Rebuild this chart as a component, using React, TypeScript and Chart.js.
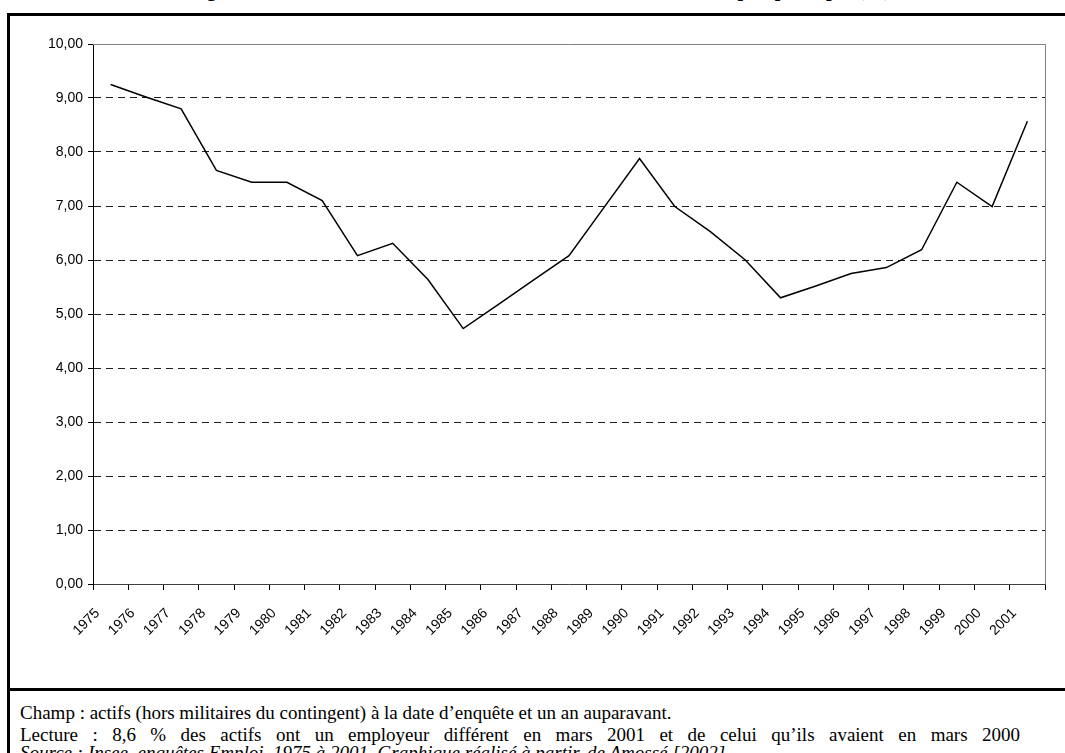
import React, { useEffect, useRef } from "react";
import { Chart, registerables } from "chart.js";

Chart.register(...registerables);

const years = [
  "1975", "1976", "1977", "1978", "1979", "1980", "1981", "1982", "1983",
  "1984", "1985", "1986", "1987", "1988", "1989", "1990", "1991", "1992",
  "1993", "1994", "1995", "1996", "1997", "1998", "1999", "2000", "2001",
];

const mobilityRate = [
  9.25, 9.02, 8.8, 7.66, 7.44, 7.44, 7.1, 6.08, 6.31,
  5.64, 4.73, 5.18, 5.63, 6.08, 6.98, 7.88, 6.99, 6.53,
  6.0, 5.3, 5.52, 5.75, 5.86, 6.19, 7.44, 6.99, 8.57,
];

const yMin = 0;
const yMax = 10;
const yStep = 1;

const titleText =
  "Figure 1 : Évolution du taux de mobilité externe des actifs en emploi principal (%)";
const noteChamp =
  "Champ : actifs (hors militaires du contingent) à la date d’enquête et un an auparavant.";
const noteLecture =
  "Lecture : 8,6 % des actifs ont un employeur différent en mars 2001 et de celui qu’ils avaient en mars 2000";
const noteSource =
  "Source : Insee, enquêtes Emploi, 1975 à 2001. Graphique réalisé à partir, de Amossé [2002]";

const framePlugin = {
  id: "plotFrame",
  afterDraw(chart: any) {
    const { ctx, chartArea } = chart;
    ctx.save();
    ctx.strokeStyle = "#808080";
    ctx.lineWidth = 1;
    ctx.beginPath();
    ctx.moveTo(chartArea.left, chartArea.top + 0.5);
    ctx.lineTo(chartArea.right + 0.5, chartArea.top + 0.5);
    ctx.lineTo(chartArea.right + 0.5, chartArea.bottom);
    ctx.stroke();
    ctx.restore();
  },
};

function MobilityChart() {
  const ref = useRef<HTMLCanvasElement | null>(null);
  useEffect(() => {
    if (!ref.current) return;
    const chart = new Chart(ref.current, {
      type: "line",
      data: {
        labels: years,
        datasets: [
          {
            data: mobilityRate,
            borderColor: "#000",
            borderWidth: 1.5,
            pointRadius: 0,
            tension: 0,
            fill: false,
          },
        ],
      },
      options: {
        animation: false,
        responsive: false,
        devicePixelRatio: 1,
        layout: { padding: { top: 44, right: 20, left: 0, bottom: 0 } },
        plugins: {
          legend: { display: false },
          tooltip: { enabled: false },
          title: { display: false },
        },
        scales: {
          x: {
            type: "category",
            offset: true,
            grid: {
              offset: true,
              drawOnChartArea: false,
              drawTicks: true,
              tickLength: 6,
              tickColor: "#000",
            },
            border: { display: true, color: "#404040", width: 1 },
            ticks: {
              autoSkip: false,
              minRotation: 45,
              maxRotation: 45,
              padding: 15,
              labelOffset: -13,
              color: "#000",
              font: { family: "'Liberation Sans', Arial, sans-serif", size: 14 },
            },
            afterFit: (scale: any) => {
              scale.height = 106;
            },
          },
          y: {
            min: yMin,
            max: yMax,
            grid: {
              color: (ctx: any) =>
                ctx.tick && (ctx.tick.value === yMin || ctx.tick.value === yMax)
                  ? "rgba(0,0,0,0)"
                  : "#202020",
              lineWidth: 1,
              tickLength: 5,
              tickColor: "#000",
            },
            border: { display: true, color: "#000", width: 1, dash: [7, 5] },
            ticks: {
              stepSize: yStep,
              padding: 5,
              color: "#000",
              font: { family: "'Liberation Sans', Arial, sans-serif", size: 14 },
              callback: (v: any) => Number(v).toFixed(2).replace(".", ","),
            },
            afterFit: (scale: any) => {
              scale.width = 93;
            },
          },
        },
      },
      plugins: [framePlugin],
    });
    return () => chart.destroy();
  }, []);
  return (
    <canvas
      ref={ref}
      width={1065}
      height={690}
      style={{ position: "absolute", left: 0, top: 0, width: 1065, height: 690 }}
    />
  );
}

export default function App() {
  const serif = "'Liberation Serif', 'Times New Roman', serif";
  const noteStyle: React.CSSProperties = {
    position: "absolute",
    left: 20,
    fontFamily: serif,
    fontSize: 19,
    lineHeight: "20px",
    whiteSpace: "nowrap",
    color: "#000",
  };
  return (
    <div
      style={{
        position: "absolute",
        left: 0,
        top: 0,
        width: 1065,
        height: 753,
        overflow: "hidden",
        background: "#fff",
      }}
    >
      <div
        style={{
          position: "absolute",
          left: 0,
          width: 1080,
          top: -21,
          textAlign: "center",
          fontFamily: serif,
          fontWeight: "bold",
          fontSize: 20,
          lineHeight: "20px",
          whiteSpace: "nowrap",
          color: "#000",
        }}
      >
        {titleText}
      </div>
      <MobilityChart />
      <div style={{ position: "absolute", left: 7, top: 13, width: 1058, height: 3, background: "#000" }} />
      <div style={{ position: "absolute", left: 7, top: 13, width: 3, height: 740, background: "#000" }} />
      <div style={{ position: "absolute", left: 7, top: 688, width: 1058, height: 3, background: "#000" }} />
      <div style={{ ...noteStyle, top: 703 }}>{noteChamp}</div>
      <div
        style={{
          ...noteStyle,
          top: 725,
          width: 1000,
          whiteSpace: "normal",
          textAlign: "justify",
          textAlignLast: "justify",
        }}
      >
        {noteLecture}
      </div>
      <div style={{ ...noteStyle, top: 743, fontStyle: "italic" }}>{noteSource}</div>
    </div>
  );
}
